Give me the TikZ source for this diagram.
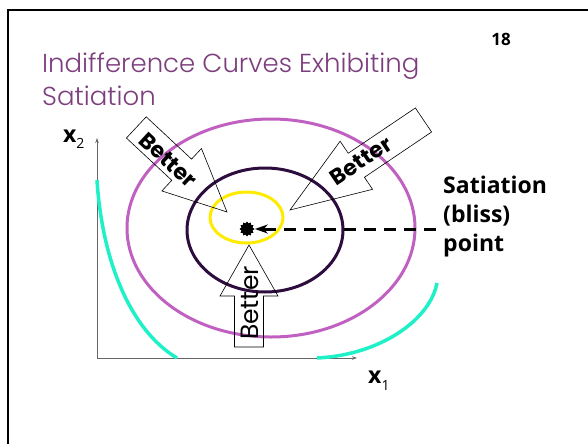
\documentclass[tikz,border=0pt]{standalone}
\usepackage{fontspec}
\usepackage{xcolor}
\usepackage{tikz}
\usetikzlibrary{arrows.meta,shapes.geometric}
\newfontfamily\titlefont{Poppins Light}
\newfontfamily\labelfont{Open Sans}
\newfontfamily\arrowfont{Poppins}
\definecolor{titlepurple}{RGB}{125,62,125}
\definecolor{orchidline}{RGB}{192,96,192}
\definecolor{darkplum}{RGB}{45,12,62}
\definecolor{lemon}{RGB}{255,235,0}
\definecolor{aqua}{RGB}{30,240,200}
% block arrow: tip, direction, total length, head length
\newcommand{\betterarrow}[4]{%
  \begin{scope}[shift={#1}, rotate=#2]
    \draw[outline] (0,0) -- (-#4,29) -- (-#4,14.5) -- (-#3,14.5) -- (-#3,-14.5)
      -- (-#4,-14.5) -- (-#4,-29) -- cycle;
  \end{scope}}

\begin{document}
\begin{tikzpicture}[x=1pt, y=-1pt,
  indiff/.style={line width=3.5pt, color=aqua},
  ring/.style={ellipse, draw, line width=3pt, inner sep=0pt},
  outline/.style={draw, line width=0.6pt},
  axis/.style={draw=black!60, line width=0.8pt, -{Stealth[length=5pt, width=3.5pt]}},
  bettertext/.style={font=\arrowfont\bfseries\fontsize{22}{22}\selectfont, inner sep=0pt},
  lbl/.style={font=\labelfont\bfseries\fontsize{23}{29}\selectfont, inner sep=0pt},
  dashedline/.style={line width=3pt, dash pattern=on 12pt off 8pt},
  >={Stealth[length=13pt, width=9pt]}]
  \useasboundingbox (0,0) rectangle (588,444);
  % slide frame and title
  \draw[line width=2pt] (8,444) -- (8,10) -- (588,10);
  \node[anchor=base west, inner sep=0pt, text=titlepurple,
    font=\titlefont\fontsize{26}{33}\selectfont] (title1) at (42,72) {Indifference Curves Exhibiting};
  \node[anchor=base west, inner sep=0pt, text=titlepurple,
    font=\titlefont\fontsize{26}{33}\selectfont] (title2) at (42,105) {Satiation};
  \node[font=\labelfont\bfseries\fontsize{17}{17}\selectfont, inner sep=0pt] (slideno) at (501,39) {18};
  % axes
  \coordinate (origin) at (97,358);
  \coordinate (ytip) at (97,138);
  \coordinate (xtip) at (357,358);
  \draw[axis] (origin) -- (ytip);
  \draw[axis] (origin) -- (xtip);
  \node[lbl, anchor=base west] (xtwo) at (63,142) {x\raisebox{-6pt}{\mdseries\fontsize{14}{14}\selectfont 2}};
  \node[lbl, anchor=base west] (xone) at (368,383) {x\raisebox{-7pt}{\mdseries\fontsize{14}{14}\selectfont 1}};
  % indifference curves
  \draw[indiff] (97,180) .. controls (102,260) and (130,330) .. (177,358);
  \draw[indiff] (317,358) .. controls (380,355) and (430,320) .. (437,283);
  \node[ring, draw=orchidline, minimum width=288, minimum height=218] (outer) at (271,228) {};
  \node[ring, draw=darkplum, minimum width=156, minimum height=124] (middle) at (265,230) {};
  \node[ring, draw=lemon, minimum width=73, minimum height=51] (inner) at (246.5,217.5) {};
  % better arrows
  \betterarrow{(227,212)}{-43}{124}{62}
  \betterarrow{(290,210)}{214}{161}{80}
  \betterarrow{(249,245)}{90}{102}{51}
  \node[bettertext, rotate=-43] (betterleft) at (168,160) {Better};
  \node[bettertext, rotate=34] (betterright) at (361,161) {Better};
  \node[bettertext, font=\arrowfont\fontsize{25}{25}\selectfont, rotate=90] (betterup) at (249.5,303) {Better};
  % bliss point
  \node[star, star points=12, star point ratio=1.3, fill=black, minimum size=15, inner sep=0pt] (bliss) at (247,229) {};
  \node[lbl, anchor=north west, align=left] (satlabel) at (443,176) {Satiation\\(bliss)\\point};
  \coordinate (dashstart) at (436,229);
  \draw[dashedline, ->] (dashstart) -- (bliss);
\end{tikzpicture}
\end{document}
